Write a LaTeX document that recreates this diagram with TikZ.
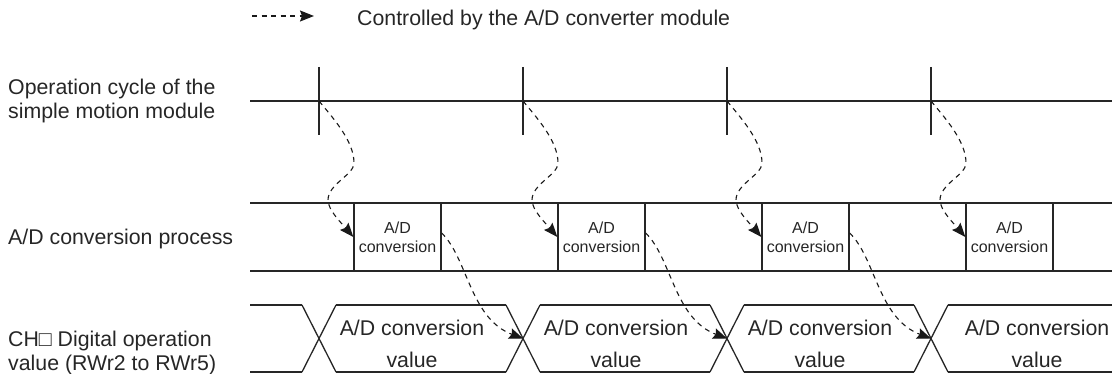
\documentclass[tikz,border=0pt]{standalone}
\usepackage{fontspec}
\setmainfont{Liberation Sans}
\usetikzlibrary{arrows.meta}
\begin{document}
\begin{tikzpicture}[x=1pt,y=-1pt,
  ln/.style={line width=1.3pt, draw=black!85},
  flow/.style={line width=1.1pt, draw=black!90, dash pattern=on 5pt off 4.5pt,
    -{Stealth[length=14pt,width=11pt,inset=2pt]}},
  lbl/.style={anchor=west, align=left, inner sep=0pt, text=black!85,
    font=\fontsize{21.3}{23.5}\selectfont},
  adbox/.style={draw=black!85, line width=1.3pt, rectangle, inner sep=0pt,
    minimum width=87pt, minimum height=68pt, align=center, text=black!85,
    font=\fontsize{16}{19}\selectfont},
  valtext/.style={align=center, inner sep=0pt, text=black!85,
    font=\fontsize{21.3}{32}\selectfont}]
\useasboundingbox (0,0) rectangle (1112,374);

% legend
\coordinate (lgA) at (252,16);
\coordinate (lgB) at (314,16);
\draw[flow] (lgA) -- (lgB);
\node[lbl] (legend) at (357,20) {Controlled by the A/D converter module};

% row labels
\node[lbl] (lop) at (8,101) {Operation cycle of the\\simple motion module};
\node[lbl] (lad) at (8,239) {A/D conversion process};
\node[lbl] (lch) at (8,353) {CH\symbol{"25A1} Digital operation\\value (RWr2 to RWr5)};

% operation cycle row
\draw[ln] (250,101) -- (1112,101);
% A/D conversion process row
\draw[ln] (250,203) -- (1112,203);
\draw[ln] (250,271) -- (1112,271);
% value row horizontals
\foreach \a/\b in {250/302, 336/506, 540/710, 744/914, 948/1112} {
  \draw[ln] (\a,305) -- (\b,305);
  \draw[ln] (\a,372) -- (\b,372);
}

\foreach \t [count=\i] in {319,523,727,931} {
  \coordinate (c\i) at (\t,101);
  \draw[ln] (\t,67) -- (\t,135);
  \node[adbox] (box\i) at (\t+78.5,237) {A/D\\conversion};
  \coordinate (x\i) at (\t,338.5);
  \draw[ln] (\t-17,305) -- (\t+17,372);
  \draw[ln] (\t+17,305) -- (\t-17,372);
  % dashed control curve from cycle tick to A/D conversion start
  \draw[flow] (c\i) .. controls +(14,17) and +(0,-22) .. ++(35,62)
     .. controls +(0,12) and +(0,-16) .. ++(-26,37)
     .. controls +(0,10) and +(-12,-14) .. (box\i.west);
}

\node[valtext] (val1) at (412,344) {A/D conversion\\value};
\node[valtext] (val2) at (616,344) {A/D conversion\\value};
\node[valtext] (val3) at (820,344) {A/D conversion\\value};
\node[valtext] (val4) at (1037,344) {A/D conversion\\value};

% dashed curves from end of A/D conversion to value update
\foreach \i/\j in {1/2, 2/3, 3/4} {
  \draw[flow] ([yshift=4pt]box\i.east) .. controls +(26,25) and +(-53,-20) .. (x\j);
}
\end{tikzpicture}
\end{document}
